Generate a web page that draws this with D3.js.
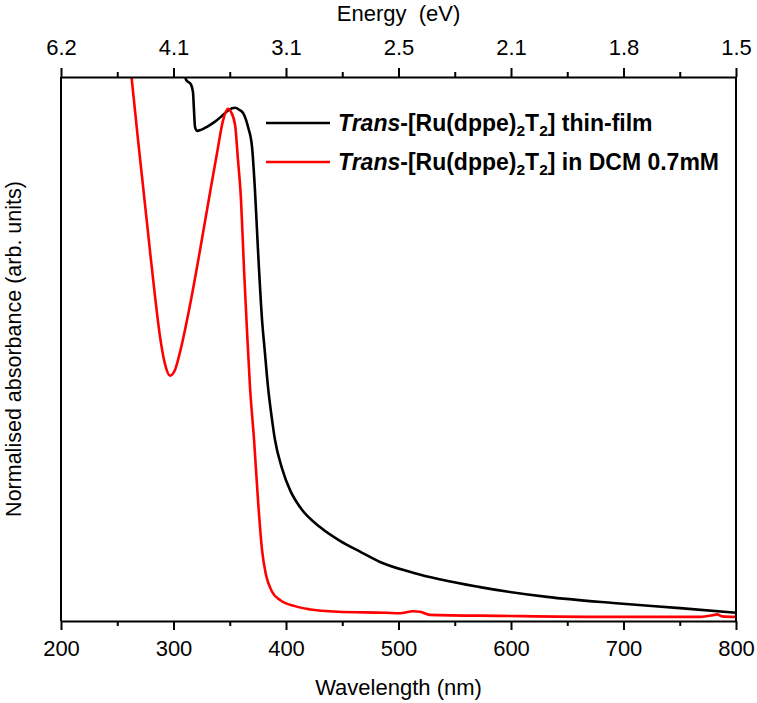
<!DOCTYPE html>
<html>
<head>
<meta charset="utf-8">
<script src="https://cdn.jsdelivr.net/npm/d3@7"></script>
<style>
  html, body { margin: 0; padding: 0; background: #fff; }
  svg { display: block; font-family: "Liberation Sans", Arial, sans-serif; }
</style>
</head>
<body>
<svg id="chart" width="757" height="703"></svg>
<script>
// ---- data ----
const wavelengthTicks = [200, 300, 400, 500, 600, 700, 800];
const wavelengthMinor = [250, 350, 450, 550, 650, 750];
const energyLabels = ["6.2", "4.1", "3.1", "2.5", "2.1", "1.8", "1.5"];

// Thin-film spectrum (black)
const filmWl  = [309, 311.1, 315.6, 317.3, 318.2, 319.1, 320.9, 324.4, 329.8, 336.9, 344.0, 349.3, 354.7, 358.5, 361.8, 366.2, 369.8, 372.4, 375.1, 378.7, 381.3, 384.0, 387.6, 390.2, 396.4, 403.6, 412.4, 430.2, 448.0, 465.8, 483.6, 512.9, 572.4, 632.0, 690.7, 750.2, 800];
const filmAbs = [1.09, 1.055, 1.045, 1.031, 0.996, 0.963, 0.955, 0.957, 0.963, 0.973, 0.986, 0.996, 1.000, 0.996, 0.990, 0.963, 0.924, 0.840, 0.723, 0.587, 0.522, 0.456, 0.392, 0.353, 0.298, 0.255, 0.222, 0.183, 0.156, 0.135, 0.115, 0.094, 0.066, 0.047, 0.035, 0.025, 0.016];

// Solution spectrum in DCM (red)
const solWl  = [260.8, 268.4, 274.7, 279.1, 283.6, 288.0, 292.4, 296.9, 301.3, 305.8, 314.7, 323.6, 332.4, 338.7, 344.0, 348.4, 351.1, 354.7, 357.3, 360.0, 362.7, 365.3, 368.0, 371.6, 375.1, 378.7, 382.2, 387.6, 394.7, 408.0, 420.4, 446.2, 488.9, 501.3, 512.9, 519.1, 528.0, 590.2, 679.1, 768.0, 778.7, 783.1, 787.6, 800];
const solAbs = [1.10, 0.939, 0.811, 0.721, 0.632, 0.554, 0.501, 0.478, 0.489, 0.524, 0.616, 0.723, 0.834, 0.912, 0.975, 0.998, 0.992, 0.967, 0.899, 0.821, 0.684, 0.567, 0.456, 0.353, 0.236, 0.138, 0.090, 0.057, 0.041, 0.029, 0.023, 0.018, 0.016, 0.015, 0.019, 0.018, 0.012, 0.010, 0.008, 0.008, 0.011, 0.013, 0.009, 0.008];

const seriesNames = ["thin-film", "in DCM 0.7mM"];
const seriesColors = ["#000000", "#ff0000"];

// ---- layout ----
const svg = d3.select("#chart");
const pLeft = 61, pRight = 736, pTop = 77, pBottom = 621;
const x = d3.scaleLinear().domain([200, 800]).range([pLeft, pRight]);
const y = d3.scaleLinear().domain([0, 1.06]).range([pBottom, pTop]);

svg.append("defs").append("clipPath").attr("id", "clip")
  .append("rect").attr("x", pLeft).attr("y", pTop).attr("width", pRight - pLeft).attr("height", pBottom - pTop);

const line = d3.line().x(d => x(d[0])).y(d => y(d[1])).curve(d3.curveMonotoneX);

const film = filmWl.map((w, i) => [w, filmAbs[i]]);
const sol = solWl.map((w, i) => [w, solAbs[i]]);

const plot = svg.append("g").attr("clip-path", "url(#clip)");
plot.append("path").datum(film).attr("d", line)
  .attr("fill", "none").attr("stroke", seriesColors[0]).attr("stroke-width", 2.6).attr("stroke-linejoin", "round");
plot.append("path").datum(sol).attr("d", line)
  .attr("fill", "none").attr("stroke", seriesColors[1]).attr("stroke-width", 2.6).attr("stroke-linejoin", "round");

// ---- axes ----
function styleAxis(g) {
  g.selectAll("path.domain").attr("stroke", "#000").attr("stroke-width", 2);
  g.selectAll(".tick line").attr("stroke", "#000").attr("stroke-width", 2);
  g.selectAll(".tick text").attr("fill", "#000").attr("font-size", 22).attr("font-family", "Liberation Sans, Arial, sans-serif");
}

// bottom
const gb = svg.append("g").attr("transform", `translate(0,${pBottom})`);
gb.call(d3.axisBottom(x).tickValues(wavelengthTicks).tickSize(9).tickPadding(10).tickSizeOuter(0)).call(styleAxis);
const gbm = svg.append("g").attr("transform", `translate(0,${pBottom})`);
gbm.call(d3.axisBottom(x).tickValues(wavelengthMinor).tickSize(5).tickFormat("")).call(styleAxis);
gbm.select("path.domain").remove();

// top
const gt = svg.append("g").attr("transform", `translate(0,${pTop})`);
gt.call(d3.axisTop(x).tickValues(wavelengthTicks).tickSize(9).tickPadding(13).tickSizeOuter(0)
  .tickFormat((d, i) => energyLabels[i])).call(styleAxis);
const gtm = svg.append("g").attr("transform", `translate(0,${pTop})`);
gtm.call(d3.axisTop(x).tickValues(wavelengthMinor).tickSize(5).tickFormat("")).call(styleAxis);
gtm.select("path.domain").remove();

// left/right spines
svg.append("line").attr("x1", pLeft).attr("x2", pLeft).attr("y1", pTop).attr("y2", pBottom).attr("stroke", "#000").attr("stroke-width", 2);
svg.append("line").attr("x1", pRight).attr("x2", pRight).attr("y1", pTop).attr("y2", pBottom).attr("stroke", "#000").attr("stroke-width", 2);

// axis titles
svg.append("text").attr("x", (pLeft + pRight) / 2).attr("y", 695).attr("text-anchor", "middle")
  .attr("font-size", 22).text("Wavelength (nm)");
svg.append("text").attr("x", (pLeft + pRight) / 2).attr("y", 21).attr("text-anchor", "middle")
  .attr("font-size", 22).style("white-space", "pre").text("Energy  (eV)");
svg.append("text").attr("transform", `translate(20.5,${(pTop + pBottom) / 2}) rotate(-90)`).attr("text-anchor", "middle")
  .attr("font-size", 21.5).text("Normalised absorbance (arb. units)");

// legend
const legY = [123, 162];
seriesNames.forEach((name, i) => {
  svg.append("line").attr("x1", 266).attr("x2", 330).attr("y1", legY[i]).attr("y2", legY[i])
    .attr("stroke", seriesColors[i]).attr("stroke-width", 2.6);
  const t = svg.append("text").attr("x", 338).attr("y", legY[i] + 8).attr("font-size", 23).attr("font-weight", "bold");
  t.append("tspan").attr("font-style", "italic").text("Trans");
  t.append("tspan").text("-[Ru(dppe)");
  t.append("tspan").attr("font-size", 15.5).attr("dy", 5).text("2");
  t.append("tspan").attr("dy", -5).text("T");
  t.append("tspan").attr("font-size", 15.5).attr("dy", 5).text("2");
  t.append("tspan").attr("dy", -5).text("] " + name);
});
</script>
</body>
</html>
